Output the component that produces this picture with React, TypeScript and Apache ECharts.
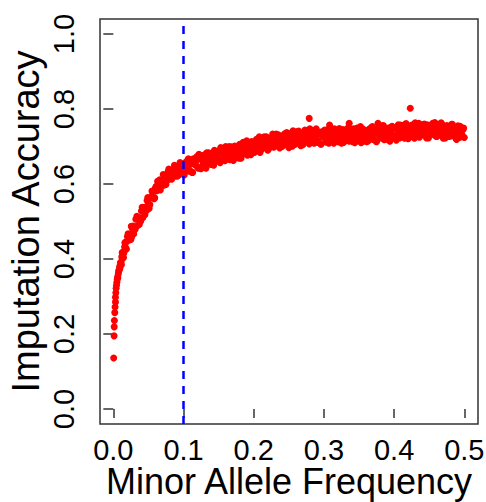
import React, { useEffect, useRef } from "react";
import * as echarts from "echarts";

// Tick values
const xTicks = [0, 0.1, 0.2, 0.3, 0.4, 0.5];
const yTicks = [0, 0.2, 0.4, 0.6, 0.8, 1.0];
const mafThreshold = 0.1;

// [minor allele frequency, imputation accuracy]
const lowMaf: [number, number][] = [
  [0.0005, 0.136], [0.001, 0.195], [0.0012, 0.219], [0.0015, 0.236], [0.002, 0.257],
  [0.0025, 0.272], [0.003, 0.285], [0.003, 0.298], [0.0035, 0.31], [0.004, 0.322],
  [0.0045, 0.33], [0.005, 0.338], [0.0055, 0.345], [0.006, 0.352], [0.0065, 0.35],
  [0.007, 0.36], [0.0075, 0.366], [0.008, 0.37], [0.0085, 0.372], [0.009, 0.38],
  [0.0095, 0.376], [0.01, 0.39], [0.011, 0.392], [0.0115, 0.385], [0.012, 0.405],
  [0.013, 0.41], [0.0135, 0.402], [0.014, 0.418], [0.015, 0.416],
];

const risingMaf: [number, number][] = [
  [0.016, 0.432], [0.017, 0.442], [0.018, 0.429], [0.019, 0.447], [0.02, 0.46],
  [0.022, 0.452], [0.023, 0.451], [0.024, 0.465], [0.026, 0.459], [0.027, 0.481],
  [0.028, 0.488], [0.03, 0.48], [0.031, 0.479], [0.032, 0.506], [0.034, 0.488],
  [0.035, 0.507], [0.036, 0.508], [0.038, 0.51], [0.039, 0.501], [0.04, 0.528],
  [0.042, 0.51], [0.043, 0.536], [0.044, 0.538], [0.046, 0.53], [0.047, 0.529],
  [0.048, 0.556], [0.05, 0.548], [0.052, 0.545], [0.053, 0.564], [0.054, 0.565],
  [0.056, 0.578], [0.057, 0.565], [0.058, 0.561], [0.06, 0.59], [0.061, 0.594],
  [0.062, 0.582], [0.064, 0.594], [0.065, 0.587], [0.066, 0.611], [0.068, 0.594],
  [0.069, 0.607], [0.07, 0.611], [0.072, 0.597], [0.073, 0.612], [0.074, 0.623],
  [0.076, 0.614], [0.077, 0.61], [0.078, 0.633], [0.08, 0.616], [0.081, 0.629],
  [0.082, 0.627], [0.084, 0.637], [0.085, 0.618], [0.086, 0.621], [0.088, 0.647],
  [0.089, 0.632], [0.09, 0.63], [0.092, 0.641], [0.093, 0.644], [0.094, 0.625],
  [0.096, 0.65], [0.097, 0.631], [0.098, 0.642], [0.1, 0.651],
];

const risingSpread: [number, number][] = [
  [0.0125, 0.417], [0.0145, 0.404], [0.0165, 0.444], [0.0185, 0.426], [0.021, 0.467],
  [0.025, 0.452], [0.0255, 0.487], [0.029, 0.467], [0.0335, 0.514], [0.037, 0.492],
  [0.041, 0.538], [0.045, 0.518], [0.049, 0.564], [0.051, 0.535], [0.055, 0.581],
  [0.059, 0.563], [0.063, 0.607], [0.067, 0.584], [0.071, 0.625], [0.075, 0.599],
  [0.079, 0.64], [0.083, 0.613], [0.087, 0.65], [0.091, 0.621], [0.095, 0.657],
  [0.099, 0.628],
];

const midMaf: [number, number][] = [
  [0.102, 0.653], [0.104, 0.639], [0.106, 0.664], [0.108, 0.634], [0.11, 0.653],
  [0.112, 0.631], [0.114, 0.667], [0.116, 0.652], [0.118, 0.663], [0.12, 0.646],
  [0.122, 0.679], [0.124, 0.642], [0.126, 0.666], [0.128, 0.654], [0.13, 0.675],
  [0.132, 0.642], [0.134, 0.666], [0.136, 0.683], [0.138, 0.659], [0.14, 0.677],
  [0.142, 0.655], [0.144, 0.69], [0.146, 0.669], [0.148, 0.662], [0.15, 0.688],
  [0.152, 0.657], [0.154, 0.681], [0.156, 0.689], [0.158, 0.672], [0.16, 0.7],
  [0.162, 0.668], [0.164, 0.684], [0.166, 0.665], [0.168, 0.699], [0.17, 0.684],
  [0.172, 0.695], [0.174, 0.671], [0.176, 0.694], [0.178, 0.678], [0.18, 0.706],
  [0.182, 0.669], [0.184, 0.691], [0.186, 0.704], [0.188, 0.687], [0.19, 0.715],
  [0.192, 0.682], [0.194, 0.702], [0.196, 0.678], [0.198, 0.699], [0.2, 0.708],
];

const midMafOdd: [number, number][] = [
  [0.101, 0.624], [0.103, 0.658], [0.105, 0.637], [0.107, 0.667], [0.109, 0.636],
  [0.111, 0.656], [0.113, 0.631], [0.115, 0.664], [0.117, 0.651], [0.119, 0.673],
  [0.121, 0.642], [0.123, 0.667], [0.125, 0.641], [0.127, 0.663], [0.129, 0.677],
  [0.131, 0.652], [0.133, 0.683], [0.135, 0.659], [0.137, 0.679], [0.139, 0.652],
  [0.141, 0.673], [0.143, 0.65], [0.145, 0.688], [0.147, 0.67], [0.149, 0.684],
  [0.151, 0.661], [0.153, 0.697], [0.155, 0.667], [0.157, 0.685], [0.159, 0.662],
  [0.161, 0.693], [0.163, 0.675], [0.165, 0.7], [0.167, 0.671], [0.169, 0.685],
  [0.171, 0.663], [0.173, 0.701], [0.175, 0.679], [0.177, 0.699], [0.179, 0.669],
  [0.181, 0.694], [0.183, 0.677], [0.185, 0.711], [0.187, 0.689], [0.189, 0.701],
  [0.191, 0.677], [0.193, 0.708], [0.195, 0.69], [0.197, 0.713], [0.199, 0.685],
];

const upperMaf: [number, number][] = [
  [0.202, 0.696], [0.204, 0.719], [0.206, 0.702], [0.208, 0.726], [0.21, 0.691],
  [0.212, 0.713], [0.214, 0.697], [0.216, 0.711], [0.218, 0.726], [0.22, 0.69],
  [0.222, 0.72], [0.224, 0.706], [0.226, 0.725], [0.228, 0.699], [0.23, 0.713],
  [0.232, 0.733], [0.234, 0.706], [0.236, 0.719], [0.238, 0.698], [0.24, 0.728],
  [0.242, 0.716], [0.244, 0.734], [0.246, 0.706], [0.248, 0.726], [0.25, 0.697],
  [0.252, 0.734], [0.254, 0.714], [0.256, 0.742], [0.258, 0.706], [0.26, 0.725],
  [0.262, 0.712], [0.264, 0.741], [0.266, 0.719], [0.268, 0.731], [0.27, 0.705],
  [0.272, 0.736], [0.274, 0.722], [0.276, 0.73], [0.278, 0.712], [0.28, 0.747],
  [0.282, 0.718], [0.284, 0.736], [0.286, 0.709], [0.288, 0.727], [0.29, 0.741],
  [0.292, 0.715], [0.294, 0.733], [0.296, 0.706], [0.298, 0.736], [0.3, 0.724],
];

const upperMafOdd: [number, number][] = [
  [0.201, 0.684], [0.203, 0.715], [0.205, 0.697], [0.207, 0.721], [0.209, 0.684],
  [0.211, 0.708], [0.213, 0.696], [0.215, 0.726], [0.217, 0.703], [0.219, 0.723],
  [0.221, 0.693], [0.223, 0.718], [0.225, 0.702], [0.227, 0.733], [0.229, 0.699],
  [0.231, 0.724], [0.233, 0.711], [0.235, 0.731], [0.237, 0.696], [0.239, 0.72],
  [0.241, 0.701], [0.243, 0.729], [0.245, 0.711], [0.247, 0.737], [0.249, 0.708],
  [0.251, 0.734], [0.253, 0.722], [0.255, 0.701], [0.257, 0.73], [0.259, 0.706],
  [0.261, 0.739], [0.263, 0.718], [0.265, 0.734], [0.267, 0.702], [0.269, 0.729],
  [0.271, 0.711], [0.273, 0.744], [0.275, 0.715], [0.277, 0.739], [0.279, 0.707],
  [0.281, 0.728], [0.283, 0.714], [0.285, 0.742], [0.287, 0.72], [0.289, 0.747],
  [0.291, 0.711], [0.293, 0.735], [0.295, 0.707], [0.297, 0.739], [0.299, 0.726],
];

const commonMaf: [number, number][] = [
  [0.302, 0.735], [0.304, 0.712], [0.306, 0.746], [0.308, 0.724], [0.31, 0.716],
  [0.312, 0.741], [0.314, 0.709], [0.316, 0.732], [0.318, 0.739], [0.32, 0.721],
  [0.322, 0.748], [0.324, 0.716], [0.326, 0.731], [0.328, 0.711], [0.33, 0.744],
  [0.332, 0.728], [0.334, 0.739], [0.336, 0.714], [0.338, 0.736], [0.34, 0.72],
  [0.342, 0.747], [0.344, 0.71], [0.346, 0.731], [0.348, 0.744], [0.35, 0.726],
  [0.352, 0.753], [0.354, 0.72], [0.356, 0.739], [0.358, 0.715], [0.36, 0.735],
  [0.362, 0.743], [0.364, 0.743], [0.366, 0.727], [0.368, 0.751], [0.37, 0.719],
  [0.372, 0.736], [0.374, 0.714], [0.376, 0.748], [0.378, 0.732], [0.38, 0.741],
  [0.382, 0.723], [0.384, 0.756], [0.386, 0.718], [0.388, 0.74], [0.39, 0.727],
  [0.392, 0.747], [0.394, 0.714], [0.396, 0.737], [0.398, 0.752], [0.4, 0.727],
];

const commonMafOdd: [number, number][] = [
  [0.301, 0.744], [0.303, 0.712], [0.305, 0.736], [0.307, 0.709], [0.309, 0.73],
  [0.311, 0.743], [0.313, 0.717], [0.315, 0.747], [0.317, 0.721], [0.319, 0.74],
  [0.321, 0.712], [0.323, 0.733], [0.325, 0.709], [0.327, 0.745], [0.329, 0.726],
  [0.331, 0.739], [0.333, 0.716], [0.335, 0.751], [0.337, 0.72], [0.339, 0.737],
  [0.341, 0.713], [0.343, 0.744], [0.345, 0.725], [0.347, 0.749], [0.349, 0.719],
  [0.351, 0.732], [0.353, 0.71], [0.355, 0.747], [0.357, 0.724], [0.359, 0.743],
  [0.361, 0.713], [0.363, 0.715], [0.365, 0.747], [0.367, 0.724], [0.369, 0.753],
  [0.371, 0.72], [0.373, 0.74], [0.375, 0.713], [0.377, 0.745], [0.379, 0.73],
  [0.381, 0.739], [0.383, 0.722], [0.385, 0.755], [0.387, 0.733], [0.389, 0.744],
  [0.391, 0.719], [0.393, 0.75], [0.395, 0.731], [0.397, 0.754], [0.399, 0.725],
];

const highMaf: [number, number][] = [
  [0.402, 0.751], [0.404, 0.731], [0.406, 0.758], [0.408, 0.723], [0.41, 0.741],
  [0.412, 0.728], [0.414, 0.757], [0.416, 0.735], [0.418, 0.747], [0.42, 0.721],
  [0.422, 0.752], [0.424, 0.738], [0.426, 0.746], [0.428, 0.728], [0.43, 0.763],
  [0.432, 0.735], [0.434, 0.752], [0.436, 0.725], [0.438, 0.744], [0.44, 0.758],
  [0.442, 0.732], [0.444, 0.749], [0.446, 0.723], [0.448, 0.753], [0.45, 0.741],
  [0.452, 0.736], [0.454, 0.759], [0.456, 0.741], [0.458, 0.764], [0.46, 0.727],
  [0.462, 0.749], [0.464, 0.732], [0.466, 0.745], [0.468, 0.759], [0.47, 0.722],
  [0.472, 0.751], [0.474, 0.736], [0.476, 0.754], [0.478, 0.727], [0.48, 0.74],
  [0.482, 0.759], [0.484, 0.731], [0.486, 0.743], [0.488, 0.721], [0.49, 0.75],
  [0.492, 0.738], [0.494, 0.754], [0.496, 0.726], [0.498, 0.745], [0.5, 0.724],
];

const highMafOdd: [number, number][] = [
  [0.401, 0.75], [0.403, 0.717], [0.405, 0.743], [0.407, 0.726], [0.409, 0.757],
  [0.411, 0.735], [0.413, 0.749], [0.415, 0.722], [0.417, 0.761], [0.419, 0.732],
  [0.421, 0.744], [0.423, 0.726], [0.425, 0.757], [0.427, 0.74], [0.429, 0.722],
  [0.431, 0.753], [0.433, 0.736], [0.435, 0.762], [0.437, 0.728], [0.439, 0.751],
  [0.441, 0.732], [0.443, 0.76], [0.445, 0.74], [0.447, 0.758], [0.449, 0.723],
  [0.451, 0.746], [0.453, 0.735], [0.455, 0.762], [0.457, 0.731], [0.459, 0.748],
  [0.461, 0.727], [0.463, 0.755], [0.465, 0.741], [0.467, 0.763], [0.469, 0.732],
  [0.471, 0.749], [0.473, 0.723], [0.475, 0.756], [0.477, 0.734], [0.479, 0.743],
  [0.481, 0.728], [0.483, 0.759], [0.485, 0.734], [0.487, 0.748], [0.489, 0.719],
  [0.491, 0.755], [0.493, 0.724], [0.495, 0.744], [0.497, 0.73], [0.499, 0.749],
];

const outliers: [number, number][] = [
  [0.279, 0.775], [0.308, 0.757], [0.336, 0.762], [0.377, 0.762], [0.423, 0.802],
];

const FONT = "'Liberation Sans', Arial, sans-serif";
const AXIS_COLOR = "#333";

export default function App() {
  const ref = useRef<HTMLDivElement>(null);

  useEffect(() => {
    if (!ref.current) return;
    const chart = echarts.init(ref.current, undefined, { renderer: "svg" });
    const allPoints = [
      ...lowMaf, ...risingMaf, ...risingSpread,
      ...midMaf, ...midMafOdd, ...upperMaf, ...upperMafOdd,
      ...commonMaf, ...commonMafOdd, ...highMaf, ...highMafOdd, ...outliers,
    ];
    chart.setOption({
      animation: false,
      backgroundColor: "#fff",
      grid: {
        left: 100,
        top: 19,
        right: 8,
        bottom: 78,
        show: true,
        borderColor: AXIS_COLOR,
        borderWidth: 1.5,
        backgroundColor: "transparent",
        containLabel: false,
        outerBoundsMode: "none",
      },
      xAxis: {
        type: "value",
        min: -0.019,
        max: 0.5195,
        splitLine: { show: false },
        axisLine: { show: false },
        axisTick: {
          show: true,
          length: 9,
          customValues: xTicks,
          lineStyle: { color: AXIS_COLOR, width: 1.5 },
        },
        axisLabel: {
          customValues: xTicks,
          formatter: (v: number) => v.toFixed(1),
          fontSize: 29,
          color: "#000",
          fontFamily: FONT,
          margin: 11,
          lineHeight: 29,
        },
        name: "Minor Allele Frequency",
        nameLocation: "middle",
        nameMoveOverlap: false,
        nameGap: 39,
        nameTextStyle: { fontSize: 36, color: "#000", fontFamily: FONT, lineHeight: 36 },
      },
      yAxis: {
        type: "value",
        min: -0.04,
        max: 1.04,
        splitLine: { show: false },
        axisLine: { show: false },
        axisTick: {
          show: true,
          length: 10,
          customValues: yTicks,
          lineStyle: { color: AXIS_COLOR, width: 1.5 },
        },
        axisLabel: {
          customValues: yTicks,
          formatter: (v: number) => v.toFixed(1),
          rotate: 90,
          fontSize: 29,
          color: "#000",
          fontFamily: FONT,
          margin: 22,
        },
        name: "Imputation Accuracy",
        nameLocation: "middle",
        nameMoveOverlap: false,
        nameGap: 55,
        nameTextStyle: { fontSize: 38, color: "#000", fontFamily: FONT },
      },
      series: [
        {
          type: "scatter",
          data: allPoints,
          symbol: "circle",
          symbolSize: 7,
          itemStyle: { color: "#ff0000", opacity: 1 },
          markLine: {
            silent: true,
            symbol: ["none", "none"],
            label: { show: false },
            lineStyle: { color: "#0000ff", width: 2.5, type: [8, 7] },
            data: [{ xAxis: mafThreshold }],
          },
        },
      ],
    });
    return () => chart.dispose();
  }, []);

  return (
    <div
      ref={ref}
      style={{ position: "fixed", left: 0, top: 0, width: 486, height: 502, background: "#fff" }}
    />
  );
}
